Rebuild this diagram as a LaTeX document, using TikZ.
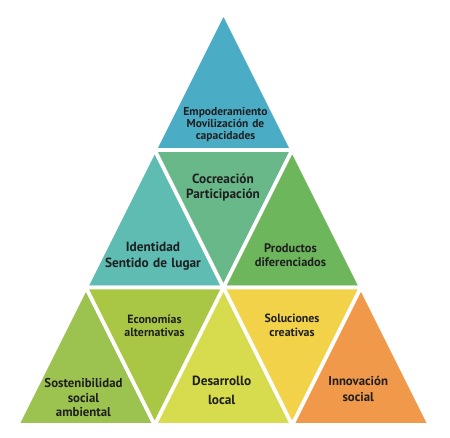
\documentclass[tikz,border=0pt]{standalone}
\usepackage{fontspec}
\setmainfont{PT Sans}
\begin{document}
\begin{tikzpicture}[x=1pt,y=-1pt,
  tri/.style={line width=3.6pt, draw=white, line join=miter},
  lbl/.style={font=\bfseries\fontsize{#1}{#1}\selectfont, text=black!88, align=center, inner sep=0pt},
  lbl/.default=12.5]
\useasboundingbox (0,0) rectangle (450,437);
\definecolor{cA}{HTML}{4BACC6}
\definecolor{cB}{HTML}{5EBCB2}
\definecolor{cC}{HTML}{68B88A}
\definecolor{cD}{HTML}{6DB65B}
\definecolor{cE}{HTML}{9CC350}
\definecolor{cF}{HTML}{A9C744}
\definecolor{cG}{HTML}{D6DC4D}
\definecolor{cH}{HTML}{F2D249}
\definecolor{cI}{HTML}{F1994A}
% lattice points
\foreach \k in {0,1,2,3}{
  \foreach \j in {0,...,\k}{
    \coordinate (p\k\j) at ({223.5-68.75*\k+137.5*\j},{12.5+137.5*\k});
  }
}
% row 1
\fill[cA] (p00) -- (p10) -- (p11) -- cycle;
\draw[tri] (p00) -- (p10) -- (p11) -- cycle;
% row 2
\fill[cB] (p10) -- (p20) -- (p21) -- cycle;
\draw[tri] (p10) -- (p20) -- (p21) -- cycle;
\fill[cC] (p10) -- (p11) -- (p21) -- cycle;
\draw[tri] (p10) -- (p11) -- (p21) -- cycle;
\fill[cD] (p11) -- (p21) -- (p22) -- cycle;
\draw[tri] (p11) -- (p21) -- (p22) -- cycle;
% row 3
\fill[cE] (p20) -- (p30) -- (p31) -- cycle;
\draw[tri] (p20) -- (p30) -- (p31) -- cycle;
\fill[cF] (p20) -- (p21) -- (p31) -- cycle;
\draw[tri] (p20) -- (p21) -- (p31) -- cycle;
\fill[cG] (p21) -- (p31) -- (p32) -- cycle;
\draw[tri] (p21) -- (p31) -- (p32) -- cycle;
\fill[cH] (p21) -- (p22) -- (p32) -- cycle;
\draw[tri] (p21) -- (p22) -- (p32) -- cycle;
\fill[cI] (p22) -- (p32) -- (p33) -- cycle;
\draw[tri] (p22) -- (p32) -- (p33) -- cycle;
% labels
\node[lbl=11.5, text width=100pt] (t1) at (225.5,125) {Empoderamiento\\[0.5pt]Movilización de\\[0.5pt]capacidades};
\node[lbl=13.3, text width=100pt] (t2) at (223,187.5) {Cocreación\\[2.5pt]Participación};
\node[lbl=13.3, text width=110pt] (t3) at (153,256) {Identidad\\[2.5pt]Sentido de lugar};
\node[lbl=12.4, text width=100pt] (t4) at (290.5,255) {Productos\\[2pt]diferenciados};
\node[lbl=11.9, text width=100pt] (t5) at (154.5,325.5) {Economías\\[1.5pt]alternativas};
\node[lbl=11.9, text width=100pt] (t6) at (292,325.5) {Soluciones\\[1.5pt]creativas};
\node[lbl=12.8, text width=100pt] (t7) at (83.5,397.5) {Sostenibilidad\\[2.5pt]social\\[1.5pt]ambiental};
\node[lbl=13.3, text width=100pt] (t8) at (221.7,390.5) {Desarrollo\\[5pt]local};
\node[lbl=12.8, text width=100pt] (t9) at (358.2,389) {Innovación\\[2.5pt]social};
\end{tikzpicture}
\end{document}
